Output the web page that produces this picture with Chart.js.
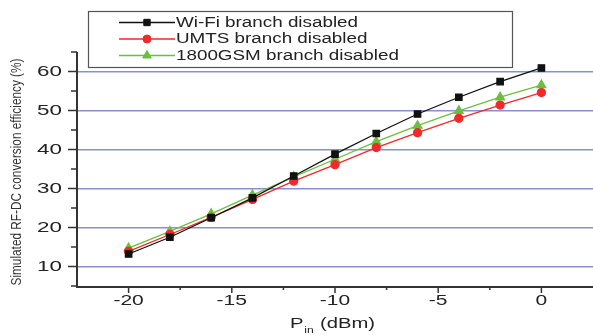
<!DOCTYPE html>
<html><head><meta charset="utf-8">
<script src="https://cdn.jsdelivr.net/npm/chart.js@4/dist/chart.umd.min.js"></script>
<style>html,body{margin:0;padding:0;background:#fff}#wrap{width:593px;height:336px}</style>
</head><body><div id="wrap"><canvas id="c" width="593" height="336"></canvas></div>
<script>
const pinDbm = [-20, -18, -16, -14, -12, -10, -8, -6, -4, -2, 0];
const wifiDisabled = [13.2, 17.5, 22.5, 27.6, 33.2, 38.8, 44.1, 49.1, 53.4, 57.4, 60.9];
const umtsDisabled = [13.9, 18.2, 22.6, 27.2, 31.9, 36.1, 40.5, 44.3, 48.0, 51.4, 54.6];
const gsmDisabled = [14.7, 19.0, 23.5, 28.3, 33.0, 37.5, 42.0, 46.1, 49.9, 53.4, 56.5];
const seriesNames = ['Wi-Fi branch disabled', 'UMTS branch disabled', '1800GSM branch disabled'];
const yMajorTicks = [10, 20, 30, 40, 50, 60];
const xMajorTicks = [-20, -15, -10, -5, 0];
const yTitle = 'Simulated RF-DC conversion efficiency (%)';
const xTitleMain = 'P', xTitleSub = 'in', xTitleRest = ' (dBm)';

const AX = '#333333';
const FONT = '"Liberation Sans", Arial, sans-serif';
const mk = (arr) => pinDbm.map((x, i) => ({x, y: arr[i]}));

function stretched(ctx, text, x, y, align, sx) {
  ctx.save();
  ctx.translate(x, y); ctx.scale(sx, 1);
  ctx.textAlign = align;
  ctx.fillText(text, 0, 0);
  ctx.restore();
}

const decor = {
  id: 'decor',
  afterDraw(chart) {
    const ctx = chart.ctx, xs = chart.scales.x, ys = chart.scales.y, ca = chart.chartArea;
    ctx.save();
    // axis lines
    ctx.strokeStyle = AX; ctx.lineWidth = 2;
    ctx.beginPath();
    ctx.moveTo(ca.left, ca.top); ctx.lineTo(ca.left, ca.bottom + 1); ctx.lineTo(ca.right, ca.bottom + 1);
    ctx.stroke();
    // tick marks
    ctx.lineWidth = 1.5;
    for (let v = 5; v <= 65; v += 5) {
      const p = ys.getPixelForValue(v);
      const major = v % 10 === 0;
      ctx.beginPath(); ctx.moveTo(ca.left - (major ? 9 : 6), p); ctx.lineTo(ca.left, p); ctx.stroke();
    }
    for (let v = -22.5; v <= 2.5; v += 2.5) {
      const p = xs.getPixelForValue(v);
      const major = Math.abs(v % 5) < 1e-9;
      if (p <= ca.left + 1 || p >= ca.right - 1) continue;
      ctx.beginPath(); ctx.moveTo(p, ca.bottom + 1); ctx.lineTo(p, ca.bottom + (major ? 7 : 4)); ctx.stroke();
    }
    // tick labels
    ctx.fillStyle = '#222';
    ctx.font = '14px ' + FONT;
    ctx.textBaseline = 'middle';
    yMajorTicks.forEach(v => stretched(ctx, String(v), 62, ys.getPixelForValue(v) + 0.5, 'right', 1.6));
    xMajorTicks.forEach(v => stretched(ctx, String(v), xs.getPixelForValue(v), 301.5, 'center', 1.5));
    // y title (condensed)
    ctx.font = '14px ' + FONT;
    ctx.fillStyle = '#333';
    ctx.save();
    ctx.translate(17, 172); ctx.rotate(-Math.PI / 2);
    const yw = ctx.measureText(yTitle).width;
    stretched(ctx, yTitle, 0, 0, 'center', 227 / yw);
    ctx.restore();
    // x title with subscript
    ctx.textBaseline = 'alphabetic';
    ctx.fillStyle = '#222';
    ctx.save();
    ctx.translate(290, 328); ctx.scale(1.35, 1);
    ctx.textAlign = 'left';
    ctx.font = '15px ' + FONT;
    let x0 = 0;
    ctx.fillText(xTitleMain, x0, 0);
    x0 += ctx.measureText(xTitleMain).width;
    ctx.font = '9px ' + FONT;
    ctx.fillText(xTitleSub, x0 + 0.5, 5);
    x0 += ctx.measureText(xTitleSub).width + 1;
    ctx.font = '15px ' + FONT;
    ctx.fillText(xTitleRest, x0, 0);
    ctx.restore();
    // legend
    const L = 88, T = 11, R = 513, B = 68;
    ctx.fillStyle = '#fff'; ctx.fillRect(L, T, R - L, B - T);
    ctx.strokeStyle = '#555'; ctx.lineWidth = 1.2;
    ctx.strokeRect(L + 0.5, T + 0.5, R - L - 1, B - T - 1);
    const rows = [22.5, 39, 55.5];
    ctx.font = '14px ' + FONT;
    const lsx = 182 / ctx.measureText(seriesNames[0]).width;
    chart.data.datasets.forEach((ds, i) => {
      const y = rows[i];
      ctx.strokeStyle = ds.borderColor; ctx.lineWidth = 1.3;
      ctx.beginPath(); ctx.moveTo(119, y); ctx.lineTo(175, y); ctx.stroke();
      ctx.fillStyle = ds.pointBackgroundColor; ctx.strokeStyle = ds.pointBorderColor; ctx.lineWidth = 1;
      Chart.helpers.drawPoint(ctx, {pointStyle: ds.pointStyle, radius: ds.pointRadius, borderWidth: 1, rotation: 0}, 147, y);
      ctx.fillStyle = '#222';
      ctx.font = '14px ' + FONT;
      ctx.textBaseline = 'middle';
      stretched(ctx, ds.label, 176, y + 0.5, 'left', lsx);
    });
    ctx.restore();
  }
};

function ds(label, data, color, style, r) {
  return {label, data: mk(data), borderColor: color, backgroundColor: color,
    pointBackgroundColor: color, pointBorderColor: color, pointStyle: style,
    pointRadius: r, pointHoverRadius: r, borderWidth: 1.3, tension: 0, fill: false, clip: false};
}

new Chart(document.getElementById('c'), {
  type: 'line',
  data: {datasets: [
    ds(seriesNames[0], wifiDisabled, '#111111', 'rect', 4.5),
    ds(seriesNames[1], umtsDisabled, '#ee2a2a', 'circle', 4),
    ds(seriesNames[2], gsmDisabled, '#6cbf3e', 'triangle', 5)
  ]},
  options: {
    responsive: false, animation: false, events: [],
    layout: {autoPadding: false, padding: {top: 52, right: 0, left: 0, bottom: 0}},
    plugins: {legend: {display: false}, tooltip: {enabled: false}},
    scales: {
      x: {type: 'linear', min: -22.5, max: 2.5,
        afterFit: s => { s.height = 50; s.paddingLeft = 0; s.paddingRight = 0; },
        afterBuildTicks: s => { s.ticks = xMajorTicks.map(v => ({value: v})); },
        grid: {display: false, drawTicks: false},
        border: {display: false},
        ticks: {display: false}
      },
      y: {type: 'linear', min: 5, max: 65,
        afterFit: s => { s.width = 77; s.paddingTop = 0; s.paddingBottom = 0; },
        afterBuildTicks: s => { s.ticks = yMajorTicks.map(v => ({value: v})); },
        grid: {color: '#8a90cc', lineWidth: 1.5, drawTicks: false},
        border: {display: false},
        ticks: {display: false}
      }
    }
  },
  plugins: [decor]
});
</script></body></html>
